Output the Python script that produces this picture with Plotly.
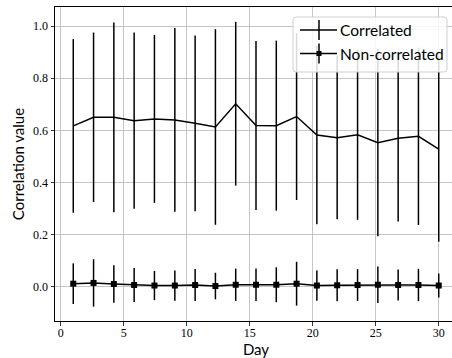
import plotly.graph_objects as go

# ---- data ----
days = [1.0, 2.61, 4.22, 5.83, 7.44, 9.06, 10.67, 12.28, 13.89, 15.5,
        17.11, 18.72, 20.33, 21.94, 23.56, 25.17, 26.78, 28.39, 30.0]
corr_mean = [0.617, 0.650, 0.650, 0.637, 0.644, 0.640, 0.627, 0.613, 0.702, 0.619,
             0.618, 0.653, 0.582, 0.572, 0.583, 0.553, 0.570, 0.577, 0.528]
corr_err = [0.333, 0.325, 0.364, 0.338, 0.322, 0.352, 0.337, 0.375, 0.314, 0.324,
            0.326, 0.320, 0.342, 0.313, 0.326, 0.359, 0.319, 0.340, 0.355]
noncorr_mean = [0.012, 0.015, 0.011, 0.007, 0.005, 0.005, 0.007, 0.003, 0.008, 0.008,
                0.008, 0.012, 0.005, 0.006, 0.007, 0.008, 0.007, 0.007, 0.005]
noncorr_err = [0.078, 0.091, 0.072, 0.065, 0.056, 0.058, 0.061, 0.051, 0.062, 0.062,
               0.067, 0.084, 0.058, 0.061, 0.061, 0.070, 0.059, 0.062, 0.046]
x_ticks = [0, 5, 10, 15, 20, 25, 30]
y_ticks = [0.0, 0.2, 0.4, 0.6, 0.8, 1.0]
legend_labels = ["Correlated", "Non-correlated"]

SANS = "Lato"
SERIF = "Liberation Serif"

fig = go.Figure()
fig.add_trace(go.Scatter(
    x=days, y=corr_mean, mode="lines", name=legend_labels[0],
    line=dict(color="black", width=1.5),
    error_y=dict(type="data", array=corr_err, color="black", thickness=1.5, width=0),
    showlegend=False))
fig.add_trace(go.Scatter(
    x=days, y=noncorr_mean, mode="lines+markers", name=legend_labels[1],
    line=dict(color="black", width=1.5),
    marker=dict(symbol="square", size=6, color="black"),
    error_y=dict(type="data", array=noncorr_err, color="black", thickness=1.5, width=0),
    showlegend=False))

# figure is slightly wider than the 452px window: the right spine falls outside, as in the reference
W, H = 457, 358
L, T, R, B = 55, 7, 457, 321

def px(x):
    return (x - L) / (R - L)

def py(y):
    return (B - y) / (B - T)

shapes = []
# legend box (rounded)
x0, x1, y0, y1, r = 293, 447, 17, 72, 3
path = (f"M {px(x0+r)},{py(y0)} L {px(x1-r)},{py(y0)} Q {px(x1)},{py(y0)} {px(x1)},{py(y0+r)} "
        f"L {px(x1)},{py(y1-r)} Q {px(x1)},{py(y1)} {px(x1-r)},{py(y1)} "
        f"L {px(x0+r)},{py(y1)} Q {px(x0)},{py(y1)} {px(x0)},{py(y1-r)} "
        f"L {px(x0)},{py(y0+r)} Q {px(x0)},{py(y0)} {px(x0+r)},{py(y0)} Z")
shapes.append(dict(type="path", xref="paper", yref="paper", path=path,
                   line=dict(color="#d0d0d0", width=1), fillcolor="rgba(255,255,255,0.85)",
                   layer="above"))
for yc in (30, 53.5):
    shapes.append(dict(type="line", xref="paper", yref="paper", x0=px(300), x1=px(337),
                       y0=py(yc), y1=py(yc), line=dict(color="black", width=1.5), layer="above"))
    shapes.append(dict(type="line", xref="paper", yref="paper", x0=px(319), x1=px(319),
                       y0=py(yc - 10), y1=py(yc + 10), line=dict(color="black", width=1.5),
                       layer="above"))
shapes.append(dict(type="rect", xref="paper", yref="paper", x0=px(316.5), x1=px(321.5),
                   y0=py(51), y1=py(56), fillcolor="black", line=dict(width=0), layer="above"))

annotations = []
for lab, yc in zip(legend_labels, (30, 53.5)):
    annotations.append(dict(xref="paper", yref="paper", x=px(338), y=py(yc), text=lab,
                            showarrow=False, xanchor="left", yanchor="middle",
                            font=dict(family=SANS, size=15.5, color="black")))

fig.update_layout(
    width=W, height=H,
    margin=dict(l=L, r=W - R, t=T, b=H - B),
    plot_bgcolor="white", paper_bgcolor="white",
    shapes=shapes, annotations=annotations,
    xaxis=dict(range=[-0.45, 31.45], tickvals=x_ticks, ticktext=[str(v) for v in x_ticks],
               showgrid=True, gridcolor="#b8b8b8", gridwidth=0.8, zeroline=False,
               showline=True, linecolor="black", linewidth=1, mirror=True,
               ticks="outside", ticklen=3.5, tickwidth=0.8, tickcolor="black",
               ticklabelstandoff=-3,
               tickfont=dict(family=SERIF, size=12, color="black"),
               title=dict(text="Day", font=dict(family=SANS, size=15, color="black"), standoff=0)),
    yaxis=dict(range=[-0.131, 1.073], tickvals=y_ticks, ticktext=[f"{v:.1f}" for v in y_ticks],
               showgrid=True, gridcolor="#b8b8b8", gridwidth=0.8, zeroline=False,
               showline=True, linecolor="black", linewidth=1, mirror=False,
               ticks="outside", ticklen=3.5, tickwidth=0.8, tickcolor="black",
               tickfont=dict(family=SERIF, size=12, color="black"),
               title=dict(text="Correlation value", font=dict(family=SANS, size=15, color="black"),
                          standoff=4)),
)

fig.write_html("out.html", config={"displayModeBar": False, "staticPlot": True},
               post_script="document.body.style.margin='0';document.body.style.overflow='hidden';")
